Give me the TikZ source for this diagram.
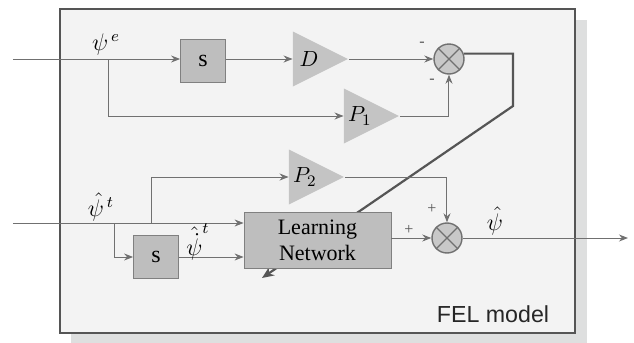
\documentclass[tikz,border=0pt]{standalone}
\usepackage{fontspec}
\setmainfont{Liberation Serif}
\setsansfont{Liberation Sans}
\usetikzlibrary{positioning}
\usetikzlibrary{arrows.meta}
\usetikzlibrary{shapes.geometric}
\usetikzlibrary{backgrounds}
\definecolor{framefill}{HTML}{F3F3F3}
\definecolor{shadowgray}{HTML}{DEDFDF}
\definecolor{frameedge}{HTML}{555555}
\definecolor{boxgray}{HTML}{BEBEBE}
\definecolor{boxedge}{HTML}{808080}
\definecolor{trigray}{HTML}{C4C4C4}
\definecolor{sumgray}{HTML}{C8C8C8}
\definecolor{linegray}{HTML}{707070}

\begin{document}
\begin{tikzpicture}[x=0.5pt,y=-0.5pt,>={Stealth[length=4.5pt,width=3.5pt]}]
\tikzset{block/.style={rectangle,draw=boxedge,fill=boxgray,minimum width=22.5pt,minimum height=21.5pt,inner sep=0pt,font=\fontsize{12}{14}\selectfont}}
\tikzset{gain/.style={isosceles triangle,isosceles triangle stretches,fill=trigray,minimum width=27.5pt,minimum height=27.5pt,inner sep=0pt,anchor=apex,font=\fontsize{11}{13}\selectfont}}
\tikzset{sum/.style={circle,draw=linegray,line width=0.7pt,fill=sumgray,minimum size=15pt,inner sep=0pt}}
\tikzset{wire/.style={draw=linegray,line width=0.5pt}}
\tikzset{feedback/.style={draw=frameedge,line width=1.1pt,>={Stealth[length=6pt,width=5pt]}}}
\tikzset{sign/.style={font=\fontsize{8}{9}\selectfont,text=frameedge}}
\tikzset{lbl/.style={font=\fontsize{12}{14}\selectfont}}
\useasboundingbox (0,0) rectangle (634,343);
% blocks
\node[block] (sbox1) at (203,61) {s};
\node[gain] (gainD) at (349,59) {$D$};
\node[sum] (sum1) at (449,59) {};
\node[gain] (gainP1) at (400,116) {$P_1$};
\node[gain] (gainP2) at (345,177) {$P_2$};
\node[block,minimum width=73.5pt,minimum height=28pt,align=center,font=\fontsize{11}{13}\selectfont] (learn) at (317.5,240) {Learning\\Network};
\node[block] (sbox2) at (156,257) {s};
\node[sum] (sum2) at (447,238) {};
\draw[linegray,line width=0.6pt] (sum1.north west) -- (sum1.south east) (sum1.north east) -- (sum1.south west);
\draw[linegray,line width=0.6pt] (sum2.north west) -- (sum2.south east) (sum2.north east) -- (sum2.south west);
% free ends and forks
\coordinate (in1) at (13,59);
\coordinate (in2) at (13,223);
\coordinate (out) at (628,238);
\coordinate (fork1) at (109,59);
\coordinate (fork2) at (152,223);
\coordinate (fork3) at (115,223);
\coordinate (bend) at (513,106);
\coordinate (tip) at (262,278);
% frame and feedback path behind the blocks
\begin{scope}[on background layer]
\fill[shadowgray] (71,20) rectangle (587,343);
\draw[frameedge,line width=1pt,fill=framefill] (60,9) rectangle (575,333);
\draw[feedback,->] (sum1.20) -- (sum1.20 -| bend) -- (bend) -- (tip);
\end{scope}
% signals
\draw[wire,->] (in1) -- (in1 -| sbox1.west);
\draw[wire,->] (sbox1.east |- in1) -- (gainD.lower side);
\draw[wire,->] (gainD.apex) -- (sum1.west);
\draw[wire,->] (fork1) |- (gainP1.lower side);
\draw[wire,->] (gainP1.apex) -| (sum1.south);
\draw[wire,->] (in2) -- (in2 -| learn.west);
\draw[wire,->] (fork2) |- (gainP2.lower side);
\draw[wire,->] (fork3) |- (sbox2.west);
\draw[wire,->] (sbox2.east) -- (sbox2.east -| learn.west);
\draw[wire,->] (gainP2.apex) -| (sum2.north);
\draw[wire,->] (learn.east |- sum2) -- (sum2.west);
\draw[wire,->] (sum2.east) -- (out);
% labels
\node[lbl] (lpsie) at (106,44) {$\psi^{\,e}$};
\node[lbl] (lpsit) at (101,207) {$\hat{\psi}^{\,t}$};
\node[lbl] (lpsidt) at (198,242) {$\hat{\dot{\psi}}^{t}$};
\node[lbl] (lpsiout) at (495,221) {$\hat{\psi}$};
\node[sign] (m1) at (422,44) {-};
\node[sign] (m2) at (432,81) {-};
\node[sign] (p1) at (432,209) {+};
\node[sign] (p2) at (409,230) {+};
\node[font=\sffamily\fontsize{11.6}{14}\selectfont,text=black!85] (fel) at (493,314) {FEL model};
\end{tikzpicture}
\end{document}
